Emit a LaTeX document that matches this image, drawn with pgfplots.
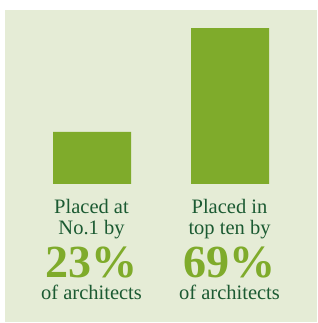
\documentclass[border=0pt]{standalone}
\usepackage{pgfplots}
\pgfplotsset{compat=1.18}
\usepackage{fontspec}
\setmainfont{Liberation Serif}
\definecolor{bg}{HTML}{E5ECD6}
\definecolor{bar}{HTML}{7FAB2B}
\definecolor{dk}{HTML}{1B5A32}
\begin{document}
\begin{tikzpicture}[x=1pt,y=1pt]
\useasboundingbox (0,0) rectangle (317,323);
\fill[bg] (5,1) rectangle (317,313);
\begin{axis}[at={(0pt,139pt)},anchor=origin,
  scale only axis, width=317pt, height=156pt,
  xmin=0, xmax=317, ymin=0, ymax=69,
  hide axis, clip=false]
\addplot[ybar, bar width=78, fill=bar, draw=none] coordinates {(92,23) (230,69)};
\end{axis}
\begin{scope}[every node/.style={anchor=base,inner sep=0pt,text=dk,font=\fontsize{20.5}{20}\selectfont}]
\node at (91.5,109) {Placed at};
\node at (91.5,88) {No.1 by};
\node[text=bar,font=\fontsize{46}{46}\selectfont\bfseries] at (91.5,45) {\raisebox{0pt}[\height][0pt]{23\%}};
\node at (91.5,23) {of architects};
\node at (229.5,109) {Placed in};
\node at (229.5,88) {top ten by};
\node[text=bar,font=\fontsize{46}{46}\selectfont\bfseries] at (229.5,45) {\raisebox{0pt}[\height][0pt]{69\%}};
\node at (229.5,23) {of architects};
\end{scope}
\end{tikzpicture}
\end{document}
